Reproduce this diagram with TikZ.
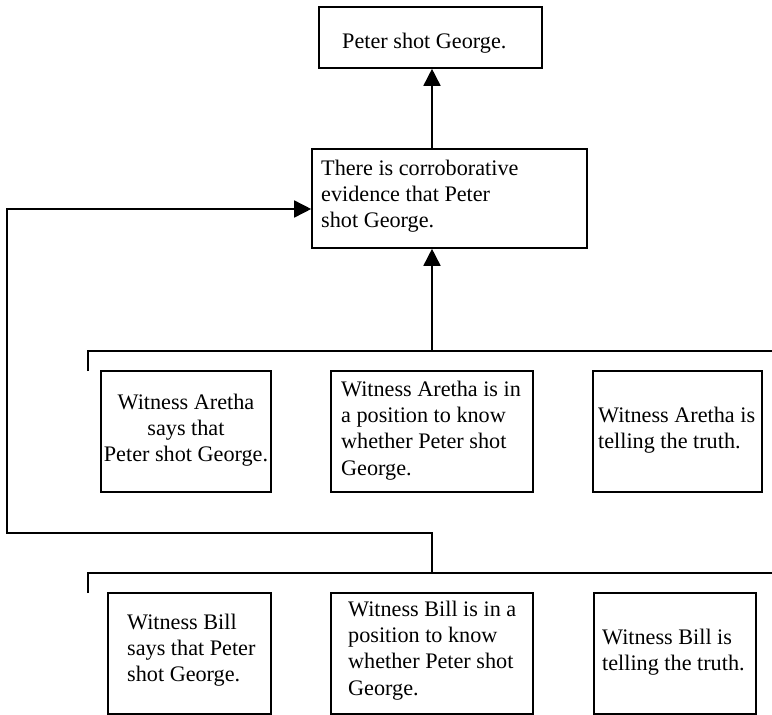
\documentclass[tikz,border=0pt]{standalone}
\usepackage{fontspec}
\setmainfont{Liberation Serif}
\usetikzlibrary{arrows.meta}

\tikzset{
  box/.style={draw, rectangle, line width=1.6pt, inner sep=0pt},
  txt/.style={inner sep=0pt, anchor=north west, align=left,
    font=\fontsize{22.2}{26.3}\selectfont, execute at begin node=\strut},
  ctxt/.style={txt, anchor=north, align=center},
  link/.style={line width=1.6pt},
  arr/.style={link, -{Triangle[length=17pt,width=17pt]}}
}

\begin{document}
\begin{tikzpicture}[x=1pt, y=-1pt]
\useasboundingbox (0,0) rectangle (772,715);

% conclusion and intermediate claim
\node[box, minimum width=223pt, minimum height=61pt] (top) at (430.5,37.5) {};
\node[txt] (toptext) at (342,29.6) {Peter shot George.};

\node[box, minimum width=275pt, minimum height=99pt] (mid) at (449.5,198.5) {};
\node[txt] (midtext) at (321,159.6) {There is corroborative\\evidence that Peter\\shot George.};

% premises from Aretha
\node[box, minimum width=170pt, minimum height=121pt] (a1) at (186,431.5) {};
\node[ctxt] (a1text) at (186,393.6) {Witness Aretha\\says that\\Peter shot George.};
\node[box, minimum width=202pt, minimum height=121pt] (a2) at (432,431.5) {};
\node[txt] (a2text) at (341,380.6) {Witness Aretha is in\\a position to know\\whether Peter shot\\George.};
\node[box, minimum width=169pt, minimum height=121pt] (a3) at (677.5,431.5) {};
\node[txt] (a3text) at (598,406.6) {Witness Aretha is\\telling the truth.};

% premises from Bill
\node[box, minimum width=163pt, minimum height=121pt] (b1) at (189.5,653.5) {};
\node[txt] (b1text) at (127,613.6) {Witness Bill\\says that Peter\\shot George.};
\node[box, minimum width=202pt, minimum height=121pt] (b2) at (432,653.5) {};
\node[txt] (b2text) at (348,600.6) {Witness Bill is in a\\position to know\\whether Peter shot\\George.};
\node[box, minimum width=162pt, minimum height=121pt] (b3) at (675,653.5) {};
\node[txt] (b3text) at (602,628.6) {Witness Bill is\\telling the truth.};

% bracket joining Aretha's premises
\coordinate (aTick) at (88,371);
\coordinate (aCorner) at (88,351);
\coordinate (aEnd) at (772,351);
\coordinate (aJoin) at (432,351);
\draw[link] (aTick) -- (aCorner) -- (aEnd);

% bracket joining Bill's premises
\coordinate (bTick) at (88,593);
\coordinate (bCorner) at (88,573);
\coordinate (bEnd) at (772,573);
\coordinate (bJoin) at (432,573);
\draw[link] (bTick) -- (bCorner) -- (bEnd);

% support arrows
\draw[arr] (aJoin) -- (aJoin |- mid.south);
\draw[arr] (mid.north -| aJoin) -- (aJoin |- top.south);

% Bill's line of support around the left side
\coordinate (loopR) at (432,533);
\coordinate (loopL) at (7,533);
\coordinate (loopT) at (7,209);
\draw[arr] (bJoin) -- (loopR) -- (loopL) -- (loopT) -- (loopT -| mid.west);
\end{tikzpicture}
\end{document}
